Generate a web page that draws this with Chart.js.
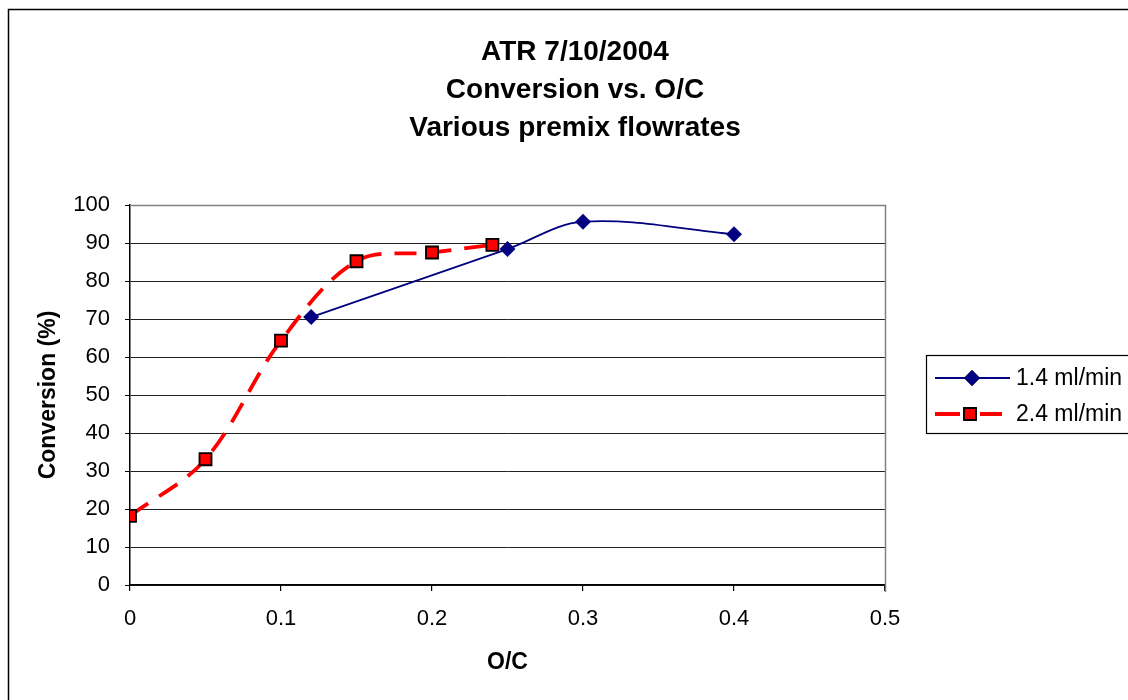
<!DOCTYPE html>
<html>
<head>
<meta charset="utf-8">
<script src="https://cdn.jsdelivr.net/npm/chart.js@4"></script>
<style>
  html, body { margin: 0; padding: 0; background: #fff; }
  #wrap { width: 1128px; height: 700px; }
</style>
</head>
<body>
<div id="wrap"><canvas id="convChart" width="1128" height="700"></canvas></div>
<script>
const titleLines = ['ATR 7/10/2004', 'Conversion vs. O/C', 'Various premix flowrates'];

const oc14 = [0.12, 0.25, 0.3, 0.4];
const conv14 = [70.5, 88.4, 95.6, 92.3];

const oc24 = [0, 0.05, 0.1, 0.15, 0.2, 0.24];
const conv24 = [18.2, 33.1, 64.3, 85.2, 87.5, 89.5];

const xTicks = [0, 0.1, 0.2, 0.3, 0.4, 0.5];
const yTicks = [0, 10, 20, 30, 40, 50, 60, 70, 80, 90, 100];

const FONT = "'Liberation Sans', Arial, sans-serif";

// white page, outer frame, gray top/right plot border
const frame = {
   id: 'frame',
   beforeDraw(chart) {
      const ctx = chart.ctx;
      ctx.save();
      ctx.fillStyle = '#fff';
      ctx.fillRect(0, 0, chart.width, chart.height);
      ctx.strokeStyle = '#000';
      ctx.lineWidth = 1.5;
      ctx.strokeRect(8.5, 9.5, chart.width + 20, chart.height + 20);
      ctx.restore();
   },
   beforeDatasetsDraw(chart) {
      const a = chart.chartArea, ctx = chart.ctx;
      ctx.save();
      ctx.strokeStyle = '#808080';
      ctx.lineWidth = 1.5;
      ctx.beginPath();
      ctx.moveTo(a.left, a.top + 0.5);
      ctx.lineTo(Math.round(a.right) + 0.5, a.top + 0.5);
      ctx.lineTo(Math.round(a.right) + 0.5, a.bottom + 7);
      ctx.stroke();
      ctx.restore();
   }
};

// legend box at the right, cut by the page edge
const sideLegend = {
   id: 'sideLegend',
   afterDraw(chart) {
      const ctx = chart.ctx;
      ctx.save();
      ctx.strokeStyle = '#000';
      ctx.lineWidth = 1.2;
      ctx.strokeRect(926.5, 355.5, 260, 78);
      const rows = [378, 414];
      chart.data.datasets.forEach((ds, i) => {
         const y = rows[i];
         ctx.save();
         ctx.strokeStyle = ds.borderColor;
         ctx.lineWidth = ds.borderWidth;
         ctx.beginPath();
         if (ds.borderDash) {
            ctx.moveTo(935, y); ctx.lineTo(960, y);
            ctx.moveTo(980, y); ctx.lineTo(1002, y);
         } else {
            ctx.moveTo(935, y); ctx.lineTo(1010, y);
         }
         ctx.stroke();
         ctx.restore();
         const cx = ds.borderDash ? 970 : 972;
         Chart.helpers.drawPoint(ctx, {
            pointStyle: ds.pointStyle,
            radius: ds.pointRadius,
            borderWidth: ds.pointBorderWidth,
            rotation: 0
         }, cx, y);
         ctx.fillStyle = ds.pointBackgroundColor;
         ctx.strokeStyle = ds.pointBorderColor;
         ctx.lineWidth = ds.pointBorderWidth;
         ctx.fill();
         if (ds.pointBorderWidth) ctx.stroke();
         ctx.fillStyle = '#000';
         ctx.font = '23px ' + FONT;
         ctx.textBaseline = 'middle';
         ctx.fillText(ds.label, 1016, y + 1);
      });
      ctx.restore();
   }
};

new Chart(document.getElementById('convChart'), {
   type: 'scatter',
   data: {
      datasets: [{
         label: '1.4 ml/min',
         data: oc14.map((x, i) => ({x: x, y: conv14[i]})),
         showLine: true,
         tension: 0.35,
         borderColor: '#000080',
         borderWidth: 1.8,
         pointStyle: 'rectRot',
         pointRadius: 8,
         pointBackgroundColor: '#000080',
         pointBorderColor: '#000080',
         pointBorderWidth: 0
      }, {
         label: '2.4 ml/min',
         data: oc24.map((x, i) => ({x: x, y: conv24[i]})),
         showLine: true,
         tension: 0.35,
         borderColor: '#ff0000',
         borderWidth: 3.8,
         borderDash: [22, 13],
         pointStyle: 'rect',
         pointRadius: 8.5,
         pointBackgroundColor: '#ff0000',
         pointBorderColor: '#000',
         pointBorderWidth: 1.8
      }]
   },
   options: {
      responsive: false,
      animation: false,
      layout: { padding: { left: 22, right: 0, top: 0, bottom: 0 } },
      plugins: {
         legend: { display: false },
         tooltip: { enabled: false },
         title: {
            display: true,
            text: titleLines,
            color: '#000',
            font: { family: FONT, size: 28, weight: 'bold', lineHeight: 38 / 28 },
            padding: { top: 33, bottom: 58 }
         }
      },
      scales: {
         x: {
            type: 'linear',
            min: 0,
            max: 0.5,
            afterBuildTicks: s => { s.ticks = xTicks.map(v => ({value: v})); },
            afterFit: s => { s.height = 115; },
            ticks: {
               color: '#000',
               padding: 15,
               font: { family: FONT, size: 22 },
               callback: v => String(v)
            },
            grid: { drawOnChartArea: false, color: '#000', tickLength: 6, lineWidth: 1.2 },
            border: { color: '#000', width: 1.5 },
            title: {
               display: true,
               text: 'O/C',
               color: '#000',
               font: { family: FONT, size: 23, weight: 'bold' },
               padding: { top: 0, bottom: 24 }
            }
         },
         y: {
            min: 0,
            max: 100,
            afterBuildTicks: s => { s.ticks = yTicks.map(v => ({value: v})); },
            afterFit: s => { s.width = 108; },
            ticks: {
               color: '#000',
               padding: 15,
               font: { family: FONT, size: 22 }
            },
            grid: { color: '#222', tickColor: '#000', tickLength: 5, lineWidth: 1 },
            border: { color: '#000', width: 1.5 },
            title: {
               display: true,
               text: 'Conversion (%)',
               color: '#000',
               font: { family: FONT, size: 23, weight: 'bold' },
               padding: { top: 13, bottom: 0 }
            }
         },
         // empty right axis that only holds the space for the legend box
         side: {
            position: 'right',
            display: true,
            afterFit: s => { s.width = 243; },
            ticks: { display: false },
            grid: { display: false },
            border: { display: false }
         }
      }
   },
   plugins: [frame, sideLegend]
});
</script>
</body>
</html>
